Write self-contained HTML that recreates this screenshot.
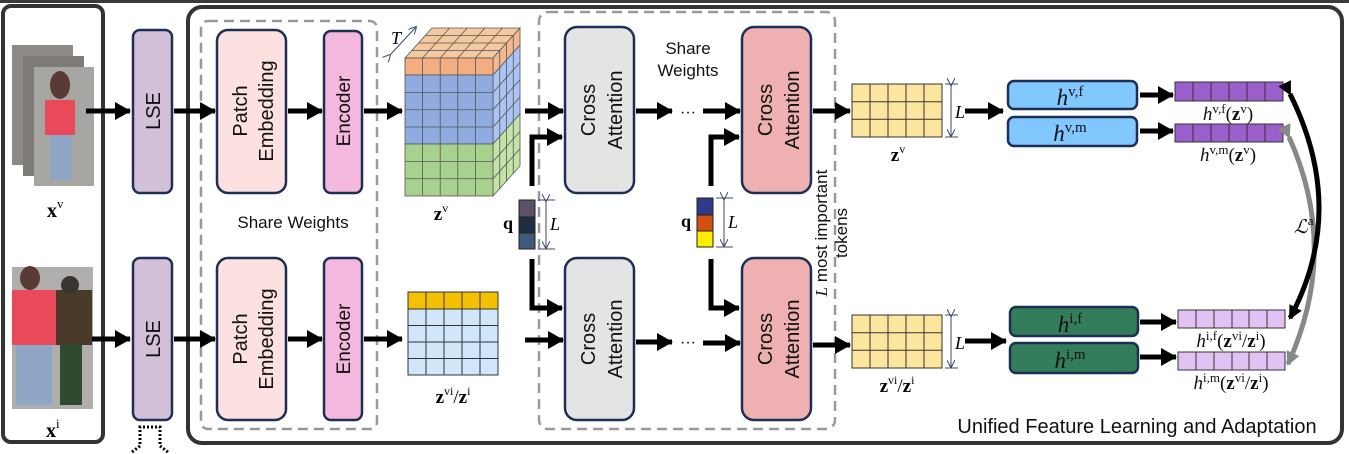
<!DOCTYPE html>
<html><head><meta charset="utf-8"><style>
body{margin:0;background:#fff}
svg{display:block}
.s{font-family:"Liberation Sans",sans-serif}
.m{font-family:"Liberation Serif",serif}
</style></head><body>
<svg width="1349" height="454" viewBox="0 0 1349 454" xmlns="http://www.w3.org/2000/svg">
<defs>
<marker id="a" markerUnits="userSpaceOnUse" markerWidth="16" markerHeight="18" refX="15" refY="9" orient="auto"><path d="M0,0 L16,9 L0,18 Z" fill="#000"/></marker>
<marker id="ab" markerUnits="userSpaceOnUse" markerWidth="14" markerHeight="14" refX="12" refY="7" orient="auto"><path d="M0,0 L14,7 L0,14 Z" fill="#000"/></marker>
<marker id="ag" markerUnits="userSpaceOnUse" markerWidth="14" markerHeight="14" refX="12" refY="7" orient="auto"><path d="M0,0 L14,7 L0,14 Z" fill="#888"/></marker>
<marker id="t" markerUnits="userSpaceOnUse" markerWidth="8" markerHeight="8" refX="7" refY="4" orient="auto"><path d="M0,0 L8,4 L0,8" fill="none" stroke="#3b4a6b" stroke-width="1"/></marker>
</defs>
<rect x="0" y="0" width="1349" height="3" fill="#3a3a3a"/>
<rect x="3" y="6" width="100" height="436" rx="8" fill="none" stroke="#333" stroke-width="4"/>
<rect x="188" y="7" width="1154" height="436" rx="14" fill="none" stroke="#333" stroke-width="4"/>
<rect x="201" y="21" width="176" height="408" rx="7" fill="none" stroke="#999" stroke-width="2.5" stroke-dasharray="10,6"/>
<rect x="539" y="12" width="296" height="417" rx="9" fill="none" stroke="#999" stroke-width="2.5" stroke-dasharray="10,6"/>
<g>
<rect x="12" y="45" width="61" height="120" fill="#8d8a85"/>
<rect x="23" y="56" width="61" height="120" fill="#7e7a76"/>
<rect x="34" y="67" width="60" height="119" fill="#a8a6a3"/>
<rect x="45" y="100" width="30" height="35" fill="#e84a5a"/>
<rect x="50" y="135" width="22" height="45" fill="#8fa6c5"/>
<ellipse cx="60" cy="85" rx="10" ry="14" fill="#5a3a35"/>
<rect x="12" y="267" width="81" height="142" fill="#b0aead"/>
<rect x="12" y="290" width="45" height="55" fill="#e84a5a"/>
<rect x="16" y="345" width="36" height="60" fill="#8fa6c5"/>
<rect x="56" y="290" width="36" height="55" fill="#4a3a2a"/>
<rect x="60" y="345" width="22" height="60" fill="#2f4a30"/>
<circle cx="70" cy="285" r="9" fill="#3a3530"/>
<ellipse cx="30" cy="278" rx="10" ry="12" fill="#5a3a35"/>
</g>
<text x="47" y="217" class="m" font-size="20" font-weight="bold">x<tspan font-size="13" font-weight="normal" dy="-9">v</tspan></text>
<text x="46" y="437" class="m" font-size="20" font-weight="bold">x<tspan font-size="13" font-weight="normal" dy="-9">i</tspan></text>
<g stroke="#1e2f55" stroke-width="2.5">
<rect x="133" y="30" width="39" height="163" rx="7" fill="#d2bfd8"/>
<rect x="133" y="258" width="39" height="162" rx="7" fill="#d2bfd8"/>
<rect x="217" y="30" width="69" height="163" rx="11" fill="#fde0e0"/>
<rect x="217" y="258" width="69" height="162" rx="11" fill="#fde0e0"/>
<rect x="324" y="31" width="38" height="162" rx="7" fill="#f4b8df"/>
<rect x="324" y="258" width="38" height="162" rx="7" fill="#f4b8df"/>
<rect x="565" y="27" width="69" height="166" rx="12" fill="#e4e4e4"/>
<rect x="565" y="258" width="69" height="162" rx="12" fill="#e4e4e4"/>
<rect x="742" y="27" width="69" height="166" rx="12" fill="#eeb0b0"/>
<rect x="742" y="258" width="69" height="162" rx="12" fill="#eeb0b0"/>
</g>
<g class="s" font-size="20" fill="#111" text-anchor="middle">
<text transform="translate(160,111) rotate(-90)">LSE</text>
<text transform="translate(160,339) rotate(-90)">LSE</text>
<text transform="translate(247,111) rotate(-90)">Patch</text>
<text transform="translate(273,111) rotate(-90)">Embedding</text>
<text transform="translate(247,339) rotate(-90)">Patch</text>
<text transform="translate(273,339) rotate(-90)">Embedding</text>
<text transform="translate(350,111) rotate(-90)" font-size="19">Encoder</text>
<text transform="translate(350,339) rotate(-90)" font-size="19">Encoder</text>
<text transform="translate(595,110) rotate(-90)">Cross</text>
<text transform="translate(622,110) rotate(-90)">Attention</text>
<text transform="translate(595,339) rotate(-90)">Cross</text>
<text transform="translate(622,339) rotate(-90)">Attention</text>
<text transform="translate(772,110) rotate(-90)">Cross</text>
<text transform="translate(799,110) rotate(-90)">Attention</text>
<text transform="translate(772,339) rotate(-90)">Cross</text>
<text transform="translate(799,339) rotate(-90)">Attention</text>
<text x="293" y="228" font-size="17">Share Weights</text>
<text x="688" y="54" font-size="17">Share</text>
<text x="688" y="76" font-size="17">Weights</text>
<text transform="translate(827,233) rotate(-90)" font-size="17"><tspan class="m" font-style="italic">L</tspan> most important</text>
<text transform="translate(847,233) rotate(-90)" font-size="17">tokens</text>
<text x="1137" y="433" font-size="20">Unified Feature Learning and Adaptation</text>
</g>
<g stroke="#555" stroke-width="0.8">
<polygon points="405,58 432,28 520,28 493,58" fill="#f5c9a0"/>
<polygon points="493,58 520,28 520,45 493,75" fill="#f3b890"/>
<polygon points="493,75 520,45 520,114 493,144" fill="#a9c4f2"/>
<polygon points="493,144 520,114 520,166 493,196" fill="#c3e3a8"/>
<rect x="405" y="58" width="88" height="17" fill="#f2ae80"/>
<rect x="405" y="75" width="88" height="69" fill="#8fabe0"/>
<rect x="405" y="144" width="88" height="52" fill="#a9d18e"/>
<path d="M405,92.5H493M405,109.75H493M405,127H493M405,161.5H493M405,178.75H493M422.6,58V196M440.2,58V196M457.8,58V196M475.4,58V196" fill="none"/>
<path d="M493,92.5L520,62.5M493,109.75L520,79.75M493,127L520,97M493,161.5L520,131.5M493,178.75L520,148.75M499.75,50.5V188.5M506.5,43V181M513.25,35.5V173.5" fill="none"/>
<path d="M411.75,50.5H499.75M418.5,43H506.5M425.25,35.5H513.25M422.6,58L449.6,28M440.2,58L467.2,28M457.8,58L484.8,28M475.4,58L502.4,28" fill="none"/>
</g>
<line x1="390" y1="55" x2="416" y2="27" stroke="#3b4a6b" stroke-width="1" marker-end="url(#t)" marker-start="url(#t)"/>
<text x="391" y="44" class="m" font-size="18" font-style="italic">T</text>
<text x="441" y="220" class="m" font-size="19" font-weight="bold" text-anchor="middle">z<tspan font-size="12" font-weight="normal" dy="-8">v</tspan></text>
<g stroke="#333" stroke-width="1">
<rect x="408" y="292" width="90" height="17" fill="#f5c000"/>
<rect x="408" y="309" width="90" height="66" fill="#cfe6fb"/>
<path d="M426,292V375M444,292V375M462,292V375M480,292V375M408,325.5H498M408,342H498M408,358.5H498" fill="none"/>
</g>
<text x="453" y="403" class="m" font-size="19" font-weight="bold" text-anchor="middle">z<tspan font-size="12" font-weight="normal" dy="-8">vi</tspan><tspan dy="8" font-weight="normal">/</tspan>z<tspan font-size="12" font-weight="normal" dy="-8">i</tspan></text>
<g stroke="#222" stroke-width="1">
<rect x="519" y="200" width="16" height="17" fill="#5a5366"/>
<rect x="519" y="217" width="16" height="16" fill="#1f2d45"/>
<rect x="519" y="233" width="16" height="16" fill="#3d5a78"/>
<rect x="697" y="198" width="16" height="17" fill="#2e3b8a"/>
<rect x="697" y="215" width="16" height="16" fill="#d25012"/>
<rect x="697" y="231" width="16" height="16" fill="#ffee00"/>
</g>
<text x="503" y="229" class="m" font-size="18" font-weight="bold">q</text>
<text x="681" y="227" class="m" font-size="18" font-weight="bold">q</text>
<g stroke="#3b4a6b" stroke-width="1">
<line x1="546" y1="201" x2="546" y2="248" marker-end="url(#t)" marker-start="url(#t)"/>
<path d="M538,200H555M538,249H555"/>
<line x1="724" y1="199" x2="724" y2="246" marker-end="url(#t)" marker-start="url(#t)"/>
<path d="M716,198H733M716,247H733"/>
</g>
<text x="550" y="230" class="m" font-size="18" font-style="italic">L</text>
<text x="728" y="228" class="m" font-size="18" font-style="italic">L</text>
<g stroke="#000" stroke-width="5" fill="none" marker-end="url(#a)">
<line x1="86" y1="111" x2="130" y2="111"/>
<line x1="174" y1="111" x2="215" y2="111"/>
<line x1="288" y1="111" x2="322" y2="111"/>
<line x1="364" y1="111" x2="402" y2="111"/>
<line x1="525" y1="111" x2="563" y2="111"/>
<line x1="636" y1="111" x2="672" y2="111"/>
<line x1="703" y1="111" x2="740" y2="111"/>
<line x1="813" y1="111" x2="850" y2="111"/>
<line x1="965" y1="111" x2="1003" y2="111"/>
<line x1="1140" y1="95" x2="1173" y2="95"/>
<line x1="1140" y1="131" x2="1173" y2="131"/>
<line x1="92" y1="339" x2="130" y2="339"/>
<line x1="174" y1="339" x2="215" y2="339"/>
<line x1="288" y1="339" x2="322" y2="339"/>
<line x1="364" y1="339" x2="402" y2="339"/>
<line x1="525" y1="340" x2="563" y2="340"/>
<line x1="636" y1="342" x2="672" y2="342"/>
<line x1="703" y1="343" x2="740" y2="343"/>
<line x1="813" y1="345" x2="850" y2="345"/>
<line x1="965" y1="341" x2="1006" y2="341"/>
<line x1="1140" y1="322" x2="1176" y2="322"/>
<line x1="1140" y1="357" x2="1176" y2="357"/>
<path d="M532,186V137H562"/>
<path d="M532,259V308H562"/>
<path d="M711,186V137H739"/>
<path d="M711,259V308H739"/>
</g>
<text x="680" y="117" font-size="16" class="s">···</text>
<text x="680" y="347" font-size="16" class="s">···</text>
<g stroke="#333" stroke-width="1">
<rect x="852" y="84" width="90" height="53" fill="#fce59c"/>
<path d="M870,84V137M888,84V137M906,84V137M924,84V137M852,101.7H942M852,119.3H942" fill="none"/>
<rect x="852" y="315" width="90" height="53" fill="#fce59c"/>
<path d="M870,315V368M888,315V368M906,315V368M924,315V368M852,332.7H942M852,350.3H942" fill="none"/>
</g>
<g stroke="#3b4a6b" stroke-width="1">
<line x1="951" y1="85" x2="951" y2="136" marker-end="url(#t)" marker-start="url(#t)"/><path d="M945,84H958M945,137H958"/>
<line x1="951" y1="316" x2="951" y2="367" marker-end="url(#t)" marker-start="url(#t)"/><path d="M945,315H958M945,368H958"/>
</g>
<text x="955" y="118" class="m" font-size="18" font-style="italic">L</text>
<text x="955" y="349" class="m" font-size="18" font-style="italic">L</text>
<text x="898" y="161" class="m" font-size="19" font-weight="bold" text-anchor="middle">z<tspan font-size="12" font-weight="normal" dy="-8">v</tspan></text>
<text x="897" y="392" class="m" font-size="19" font-weight="bold" text-anchor="middle">z<tspan font-size="12" font-weight="normal" dy="-8">vi</tspan><tspan dy="8" font-weight="normal">/</tspan>z<tspan font-size="12" font-weight="normal" dy="-8">i</tspan></text>
<g stroke="#1e2f55" stroke-width="2.5">
<rect x="1008" y="81" width="129" height="28" rx="6" fill="#80c8ff"/>
<rect x="1008" y="117" width="129" height="29" rx="6" fill="#80c8ff"/>
<rect x="1010" y="307" width="128" height="29" rx="6" fill="#337d5a"/>
<rect x="1010" y="343" width="128" height="30" rx="6" fill="#337d5a"/>
</g>
<g class="m" font-size="23" font-style="italic" text-anchor="middle" fill="#111">
<text x="1070" y="105">h<tspan font-size="15" font-style="normal" dy="-9">v,f</tspan></text>
<text x="1070" y="141">h<tspan font-size="15" font-style="normal" dy="-9">v,m</tspan></text>
<text x="1070" y="332">h<tspan font-size="15" font-style="normal" dy="-9">i,f</tspan></text>
<text x="1070" y="368">h<tspan font-size="15" font-style="normal" dy="-9">i,m</tspan></text>
</g>
<g stroke="#333" stroke-width="1">
<rect x="1175" y="82" width="108" height="19" fill="#9b5fcb"/>
<path d="M1193,82V101M1211,82V101M1229,82V101M1247,82V101M1265,82V101"/>
<rect x="1175" y="124" width="108" height="18" fill="#9b5fcb"/>
<path d="M1193,124V142M1211,124V142M1229,124V142M1247,124V142M1265,124V142"/>
<rect x="1178" y="310" width="107" height="18" fill="#e1c2f2"/>
<path d="M1196,310V328M1214,310V328M1232,310V328M1249,310V328M1267,310V328"/>
<rect x="1178" y="352" width="107" height="18" fill="#e1c2f2"/>
<path d="M1196,352V370M1214,352V370M1232,352V370M1249,352V370M1267,352V370"/>
</g>
<g class="m" font-size="19" text-anchor="middle" fill="#111">
<text x="1228" y="120"><tspan font-style="italic">h</tspan><tspan font-size="13" dy="-7">v,f</tspan><tspan dy="7">(</tspan><tspan font-weight="bold">z</tspan><tspan font-size="13" dy="-7">v</tspan><tspan dy="7">)</tspan></text>
<text x="1228" y="161"><tspan font-style="italic">h</tspan><tspan font-size="13" dy="-7">v,m</tspan><tspan dy="7">(</tspan><tspan font-weight="bold">z</tspan><tspan font-size="13" dy="-7">v</tspan><tspan dy="7">)</tspan></text>
<text x="1231" y="347"><tspan font-style="italic">h</tspan><tspan font-size="13" dy="-7">i,f</tspan><tspan dy="7">(</tspan><tspan font-weight="bold">z</tspan><tspan font-size="13" dy="-7">vi</tspan><tspan dy="7">/</tspan><tspan font-weight="bold">z</tspan><tspan font-size="13" dy="-7">i</tspan><tspan dy="7">)</tspan></text>
<text x="1231" y="389"><tspan font-style="italic">h</tspan><tspan font-size="13" dy="-7">i,m</tspan><tspan dy="7">(</tspan><tspan font-weight="bold">z</tspan><tspan font-size="13" dy="-7">vi</tspan><tspan dy="7">/</tspan><tspan font-weight="bold">z</tspan><tspan font-size="13" dy="-7">i</tspan><tspan dy="7">)</tspan></text>
</g>
<path d="M1289,137 Q1340,250 1288,364" fill="none" stroke="#888" stroke-width="5" marker-start="url(#ag)" marker-end="url(#ag)"/>
<path d="M1290,94 Q1348,210 1290,318" fill="none" stroke="#000" stroke-width="5" marker-start="url(#ab)" marker-end="url(#ab)"/>
<text x="1294" y="233" class="m" font-size="19" font-style="italic">ℒ<tspan font-size="13" font-style="normal" dy="-8">a</tspan></text>
<path d="M132,452 L140,446 V427 H160 V446 L168,452" fill="none" stroke="#000" stroke-width="3" stroke-dasharray="2,2"/>
</svg>
</body></html>
